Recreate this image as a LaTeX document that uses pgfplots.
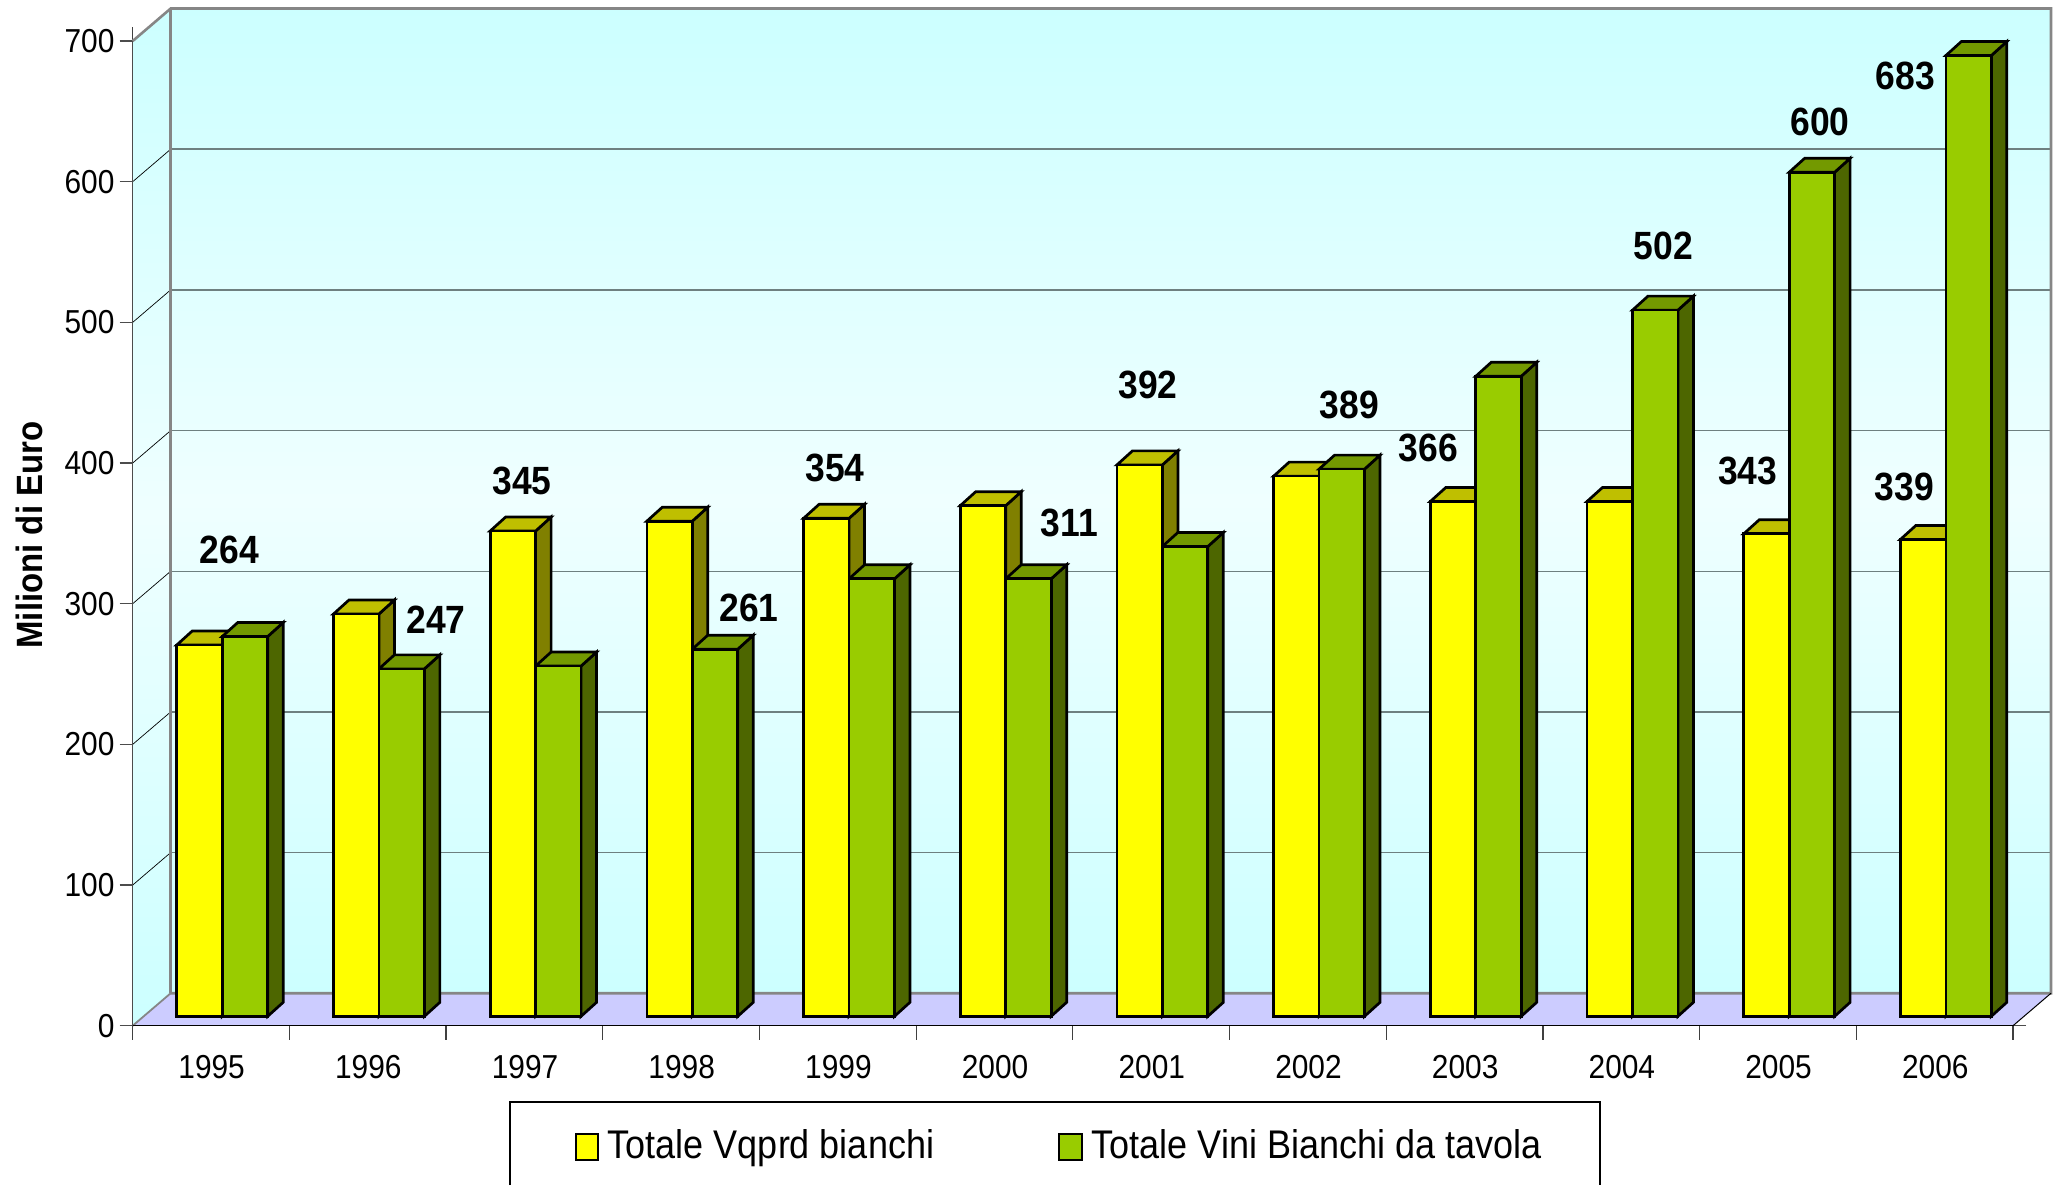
\documentclass[border=0pt]{standalone}
\usepackage{fontspec}
\usepackage{pgfplots}
\usepackage{pgfplotstable}
\pgfplotsset{compat=1.18}
\setmainfont[FakeStretch=0.9]{Liberation Sans}
\definecolor{wallc}{HTML}{CCFFFF}
\definecolor{wallm}{HTML}{EFFFFF}
\definecolor{floorc}{HTML}{CCCCFF}
\definecolor{yf}{HTML}{FFFF00}
\definecolor{yt}{HTML}{BFBF00}
\definecolor{ys}{HTML}{808000}
\definecolor{gf}{HTML}{99CC00}
\definecolor{gt}{HTML}{739900}
\definecolor{gs}{HTML}{4D6600}
\definecolor{wallline}{HTML}{868686}
\definecolor{gridc}{HTML}{6E8080}
\pgfplotstableread{
x y g
0.5 264 270
1.5 286 247
2.5 345 249
3.5 352 261
4.5 354 311
5.5 363 311
6.5 392 334
7.5 384 389
8.5 366 455
9.5 366 502
10.5 343 600
11.5 339 683
}\tab
\newcommand\sidetop[5]{%
  \pgfmathsetmacro\xa{#1}%
  \pgfmathsetmacro\xb{#1+0.29}%
  \pgfmathsetmacro\xc{#1+0.29+0.0989}%
  \pgfmathsetmacro\xd{#1+0.0989}%
  \pgfmathsetmacro\vb{#3+9.95}%
  \edef\tmp{\noexpand\addplot[barpoly,fill=#5] coordinates {(\xb,0) (\xb,#3) (\xc,\vb) (\xc,9.95)} -- cycle;%
    \noexpand\addplot[barpoly,fill=#4] coordinates {(\xa,#3) (\xb,#3) (\xc,\vb) (\xd,\vb)} -- cycle;}%
  \tmp
}
\pgfplotsset{barpoly/.style={draw=black,line width=1.35pt,line join=miter,mark=none,forget plot}}
\newcommand\vl[3]{\node[font=\fontsize{19.7}{22}\selectfont\bfseries] at (#1/0.7604,#2/0.7604) {#3};}
\begin{document}
\begin{tikzpicture}
\path[use as bounding box] (0,0) rectangle (1031pt,-592.5pt);
\begin{axis}[
  at={(66.35pt,-512.85pt)},anchor=south west,
  scale only axis,width=940.15pt,height=492.35pt,
  xmin=0,xmax=12,ymin=0,ymax=700,clip=false,
  axis line style={draw=none},
  tick align=outside,
  ytick={0,100,...,700},
  xtick={0.5,1.5,...,11.5},
  xticklabels={1995,1996,1997,1998,1999,2000,2001,2002,2003,2004,2005,2006},
  minor xtick={0,1,...,12},
  major tick length=6.5pt,
  minor tick length=7pt,
  x tick style={draw=none},
  minor x tick style={draw=black!75,line width=0.6pt},
  y tick style={draw=black!70,line width=0.7pt},
  /pgf/number format/assume math mode=true,
  tick label style={font=\fontsize{16.6}{19}\selectfont},
  x tick label style={yshift=-4.6pt,xshift=0.3pt},
  y tick label style={xshift=0.9pt},
]
% walls and floor
\fill[top color=wallc,bottom color=wallc,middle color=wallm]
  (axis cs:0,0)--(axis cs:0,700)--(axis cs:0.2425,723.1)--(axis cs:0.2425,23.1)--cycle;
\fill[top color=wallc,bottom color=wallc,middle color=wallm]
  (axis cs:0.2425,23.1) rectangle (axis cs:12.2425,723.1);
\fill[floorc] (axis cs:0,0)--(axis cs:12,0)--(axis cs:12.2425,23.1)--(axis cs:0.2425,23.1)--cycle;
\pgfplotsinvokeforeach{100,200,300,400,500,600}{
  \draw[black,line width=0.35pt] (axis cs:0,#1)--(axis cs:0.2425,#1+23.1);
  \draw[gridc,line width=0.7pt] (axis cs:0.2425,#1+23.1)--(axis cs:12.2425,#1+23.1);
}
\draw[wallline,line width=1.3pt,line join=miter] (axis cs:0,700)--(axis cs:0.2425,723.1)--(axis cs:12.2425,723.1)--(axis cs:12.2425,23.1)--(axis cs:0.2425,23.1);
\draw[wallline,line width=1.3pt] (axis cs:0.2425,723.1)--(axis cs:0.2425,23.1);
\draw[wallline,line width=0.9pt] (axis cs:0,0)--(axis cs:0.2425,23.1);
\draw[black,line width=0.5pt] (axis cs:12,0)--(axis cs:12.2425,23.1);
\draw[black!70,line width=0.8pt] (axis cs:0,0)--(axis cs:0,700);
\draw[black,line width=0.7pt] (axis cs:0,0)--(axis cs:12,0);
\end{axis}
\begin{axis}[
  at={(71.95pt,-508.15pt)},anchor=south west,
  scale only axis,width=940.15pt,height=492.35pt,
  xmin=0,xmax=12,ymin=0,ymax=700,clip=false,hide axis,
]
\pgfplotsforeachungrouped \r in {0,1,...,11}{%
  \pgfplotstablegetelem{\r}{y}\of\tab
  \edef\val{\pgfplotsretval}%
  \pgfmathsetmacro\xy{\r+0.21}%
  \sidetop{\xy}{0}{\val}{yt}{ys}%
}
\pgfplotsforeachungrouped \r in {0,1,...,11}{%
  \pgfplotstablegetelem{\r}{g}\of\tab
  \edef\val{\pgfplotsretval}%
  \pgfmathsetmacro\xy{\r+0.5}%
  \sidetop{\xy}{0}{\val}{gt}{gs}%
}
\addplot[ybar,bar width=0.29,bar shift=-0.145,draw=black,line width=1.35pt,fill=yf,mark=none] table[x=x,y=y] {\tab};
\addplot[ybar,bar width=0.29,bar shift=0.145,draw=black,line width=1.35pt,fill=gf,mark=none] table[x=x,y=g] {\tab};
\end{axis}
\begin{scope}[x=0.5pt,y=-0.5pt]
\vl{174.5}{418}{264}
\vl{331.5}{471}{247}
\vl{397}{366}{345}
\vl{569.5}{462}{261}
\vl{635}{356}{354}
\vl{813}{398}{311}
\vl{873}{293}{392}
\vl{1026}{308}{389}
\vl{1086}{341}{366}
\vl{1265}{187}{502}
\vl{1329}{358}{343}
\vl{1384}{93}{600}
\vl{1449}{58}{683}
\vl{1448}{370}{339}
\node[rotate=90,font=\fontsize{18.3}{21}\selectfont\bfseries] at (29,535) {Milioni di Euro};
\draw[black,line width=0.7pt] (510,1185)--(510,1102)--(1600,1102)--(1600,1185);
\draw[black,line width=1.1pt,fill=yf] (576,1134) rectangle (598,1160);
\draw[black,line width=1.1pt,fill=gf] (1059,1134) rectangle (1082,1160);
\node[anchor=base west,inner sep=0pt,font=\fontsize{20}{23}\selectfont] at (607.5,1158) {Totale Vqprd bianchi};
\node[anchor=base west,inner sep=0pt,font=\fontsize{20}{23}\selectfont] at (1091.5,1158) {Totale Vini Bianchi da tavola};
\end{scope}
\end{tikzpicture}
\end{document}
